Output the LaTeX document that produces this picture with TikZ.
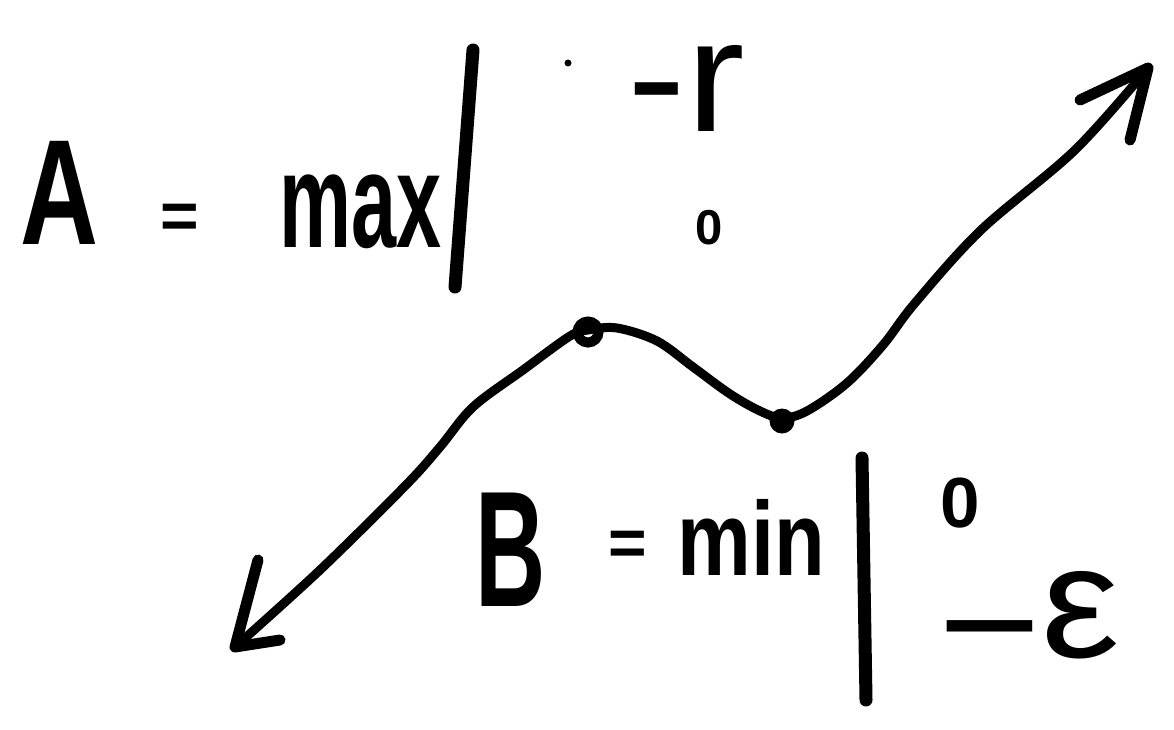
\documentclass[tikz,border=0pt]{standalone}
\usepackage{fontspec}
\setmainfont{Liberation Sans}
\newcommand{\hfsz}[1]{\fontsize{#1}{#1}\selectfont\bfseries}
\newcommand{\rfsz}[1]{\fontsize{#1}{#1}\selectfont}
\begin{document}
\begin{tikzpicture}[x=1pt,y=-1pt,
  ink/.style={line width=9pt, line cap=round, line join=round},
  barb/.style={line width=11pt, line cap=round, line join=round},
  evalbar/.style={line width=13pt, line cap=round},
  txt/.style={inner sep=0pt, outer sep=0pt, anchor=center},
  extremum/.style={circle, draw, line width=10pt, minimum size=21pt, inner sep=0pt},
  lowpt/.style={circle, fill, minimum size=25pt, inner sep=0pt}]
\useasboundingbox (0,0) rectangle (1174,730);
\fill[white] (0,0) rectangle (1174,730);

% ---- A = max | ^{-r}_{0}
\node[txt, xscale=0.72] (A) at (59,193) {\hfsz{150}A};
\node[txt] (eqA) at (180,221) {\hfsz{66}=};
\node[txt, xscale=0.6] (max) at (361,212) {\hfsz{135}max};
\coordinate (barAtop) at (473,50);
\coordinate (barAbot) at (455,287);
\draw[evalbar] (barAtop) -- (barAbot);
\fill (568,63) circle (3.5pt);
\node[txt, xscale=1.1] (upA) at (686,88) {\rfsz{160}-r};
\node[txt] (loA) at (709,228) {\hfsz{49}0};

% ---- curve
\coordinate (tipL) at (235,647);
\coordinate (tipR) at (1148,68);
\draw[ink] plot[smooth, tension=0.55] coordinates {
  (235,647) (320,570) (406,485) (440,447) (473,407) (523,370) (570,336)
  (588,330) (617,328) (657,341) (693,367) (730,394) (760,411) (782,418)
  (807,411) (847,383) (883,345) (915,303) (981,230) (1075,150) (1148,68)};
\draw[barb] (258,560) -- (tipL) -- (280,640);
\draw[barb] (1080,100) -- (tipR) -- (1130,140);
\node[extremum] (Apt) at (588,332) {};
\node[lowpt] (Bpt) at (782,421) {};

% ---- B = min | ^{0}_{-eps}
\node[txt, xscale=0.59] (B) at (511,550) {\hfsz{165}B};
\node[txt] (eqB) at (628,548) {\hfsz{66}=};
\node[txt, xscale=0.79] (min) at (751,537) {\hfsz{105}min};
\coordinate (barBtop) at (862,458);
\coordinate (barBbot) at (866,700);
\draw[evalbar] (barBtop) -- (barBbot);
\node[txt] (upB) at (960,503) {\hfsz{71}0};
\node[txt, xscale=1.1] (loB) at (1029,625) {\rfsz{160}\raisebox{-22pt}{−}ε};
\end{tikzpicture}
\end{document}
